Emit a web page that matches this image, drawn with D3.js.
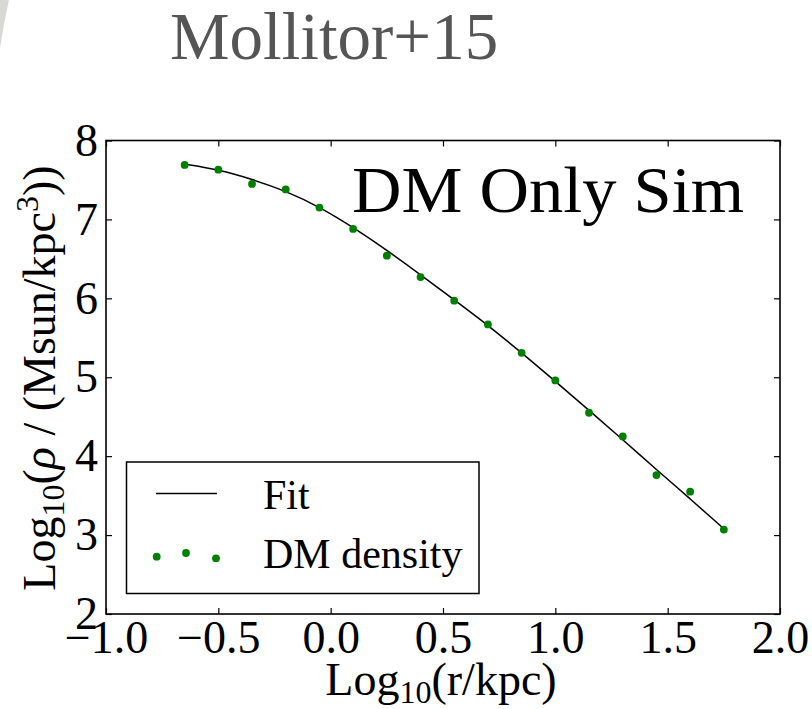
<!DOCTYPE html>
<html>
<head>
<meta charset="utf-8">
<script src="https://cdn.jsdelivr.net/npm/d3@7/dist/d3.min.js"></script>
<style>
  html, body { margin: 0; padding: 0; background: #fff; }
  svg { display: block; }
  text { font-family: "Liberation Serif", "Times New Roman", serif; }
</style>
</head>
<body>
<svg id="chart" width="812" height="709"></svg>
<script>
// ---- data ----
const logR = [-0.65, -0.50, -0.35, -0.20, -0.05, 0.10, 0.25, 0.40, 0.55, 0.70, 0.85, 1.00, 1.15, 1.30, 1.45, 1.60, 1.75];
const dmDensity = [7.69, 7.63, 7.45, 7.38, 7.15, 6.88, 6.54, 6.27, 5.97, 5.67, 5.31, 4.96, 4.55, 4.25, 3.76, 3.55, 3.07];
const fitDensity = [7.70, 7.63, 7.51, 7.36, 7.16, 6.90, 6.61, 6.30, 5.98, 5.66, 5.31, 4.95, 4.58, 4.21, 3.83, 3.46, 3.08];
const xTicks = [-1.0, -0.5, 0.0, 0.5, 1.0, 1.5, 2.0];
const yTicks = [2, 3, 4, 5, 6, 7, 8];
const legendLabels = ["Fit", "DM density"];
const titleText = "Mollitor+15";
const panelText = "DM Only Sim";

const svg = d3.select("#chart");
const L = 106, R = 780, T = 140.5, B = 614;

const x = d3.scaleLinear().domain([-1, 2]).range([L, R]);
const y = d3.scaleLinear().domain([2, 8]).range([B, T]);

// faint slide artifact top-left
svg.append("path")
  .attr("d", "M0,0 L9,0 Q4,22 0,48 Z")
  .attr("fill", "#d8d8d4");

// title
svg.append("text")
  .attr("x", 170).attr("y", 59)
  .attr("font-size", 67)
  .attr("fill", "#555555")
  .text(titleText);

// axes with inward ticks
const tick = 6;
const gx = svg.append("g").attr("transform", `translate(0,${B})`)
  .call(d3.axisBottom(x).tickValues(xTicks).tickFormat(d3.format(".1f")).tickSizeInner(-tick).tickSizeOuter(0).tickPadding(6));
const gxTop = svg.append("g").attr("transform", `translate(0,${T})`)
  .call(d3.axisTop(x).tickValues(xTicks).tickFormat("").tickSizeInner(-tick).tickSizeOuter(0));
const gy = svg.append("g").attr("transform", `translate(${L},0)`)
  .call(d3.axisLeft(y).tickValues(yTicks).tickFormat(d3.format("d")).tickSizeInner(-tick).tickSizeOuter(0).tickPadding(8));
const gyR = svg.append("g").attr("transform", `translate(${R},0)`)
  .call(d3.axisRight(y).tickValues(yTicks).tickFormat("").tickSizeInner(-tick).tickSizeOuter(0));

[gx, gxTop, gy, gyR].forEach(g => {
  g.select(".domain").remove();
  g.selectAll(".tick line").attr("stroke", "#000").attr("stroke-width", 1.2);
  g.selectAll("text").attr("font-family", "Liberation Serif, serif").attr("font-size", 46).attr("fill", "#000");
});

// frame
svg.append("rect")
  .attr("x", L).attr("y", T).attr("width", R - L).attr("height", B - T)
  .attr("fill", "none").attr("stroke", "#000").attr("stroke-width", 1.6);

// fit line
const line = d3.line().x((d, i) => x(logR[i])).y(d => y(d)).curve(d3.curveBasis);
svg.append("path")
  .datum(fitDensity)
  .attr("d", line)
  .attr("fill", "none").attr("stroke", "#000").attr("stroke-width", 1.5);

// DM points
svg.append("g").selectAll("circle")
  .data(dmDensity)
  .join("circle")
  .attr("cx", (d, i) => x(logR[i]))
  .attr("cy", d => y(d))
  .attr("r", 3.9)
  .attr("fill", "#008000");

// panel text
svg.append("text")
  .attr("x", 352).attr("y", 212)
  .attr("font-size", 66)
  .attr("textLength", 392).attr("lengthAdjust", "spacingAndGlyphs")
  .attr("fill", "#000")
  .text(panelText);

// legend
const lg = svg.append("g");
lg.append("rect")
  .attr("x", 126.5).attr("y", 462).attr("width", 352.5).attr("height", 131.5)
  .attr("fill", "#fff").attr("stroke", "#000").attr("stroke-width", 1.5);
lg.append("line")
  .attr("x1", 156).attr("x2", 217).attr("y1", 493.5).attr("y2", 493.5)
  .attr("stroke", "#000").attr("stroke-width", 1.5);
const legDots = [[156.7, 556.7], [186, 553], [216, 558.3]];
lg.selectAll("circle.leg").data(legDots).join("circle")
  .attr("class", "leg")
  .attr("cx", d => d[0]).attr("cy", d => d[1]).attr("r", 3.9).attr("fill", "#008000");
lg.selectAll("text.leg").data(legendLabels).join("text")
  .attr("class", "leg")
  .attr("x", 263).attr("y", (d, i) => i === 0 ? 509 : 568)
  .attr("font-size", 42).attr("fill", "#000")
  .text(d => d);

// x label
const xl = svg.append("text")
  .attr("x", 441).attr("y", 695)
  .attr("text-anchor", "middle")
  .attr("font-size", 46).attr("fill", "#000");
xl.append("tspan").text("Log");
xl.append("tspan").attr("font-size", 32).attr("dy", 8).text("10");
xl.append("tspan").attr("dy", -8).text("(r/kpc)");

// y label
const yl = svg.append("text")
  .attr("transform", "translate(55,378) rotate(-90)")
  .attr("text-anchor", "middle")
  .attr("font-size", 46).attr("fill", "#000");
yl.append("tspan").text("Log");
yl.append("tspan").attr("font-size", 32).attr("dy", 9).text("10");
yl.append("tspan").attr("dy", -9).text("(");
yl.append("tspan").attr("font-style", "italic").text("ρ");
yl.append("tspan").text(" / (Msun/kpc");
yl.append("tspan").attr("font-size", 32).attr("dy", -17).text("3");
yl.append("tspan").attr("dy", 17).text("))");
</script>
</body>
</html>
